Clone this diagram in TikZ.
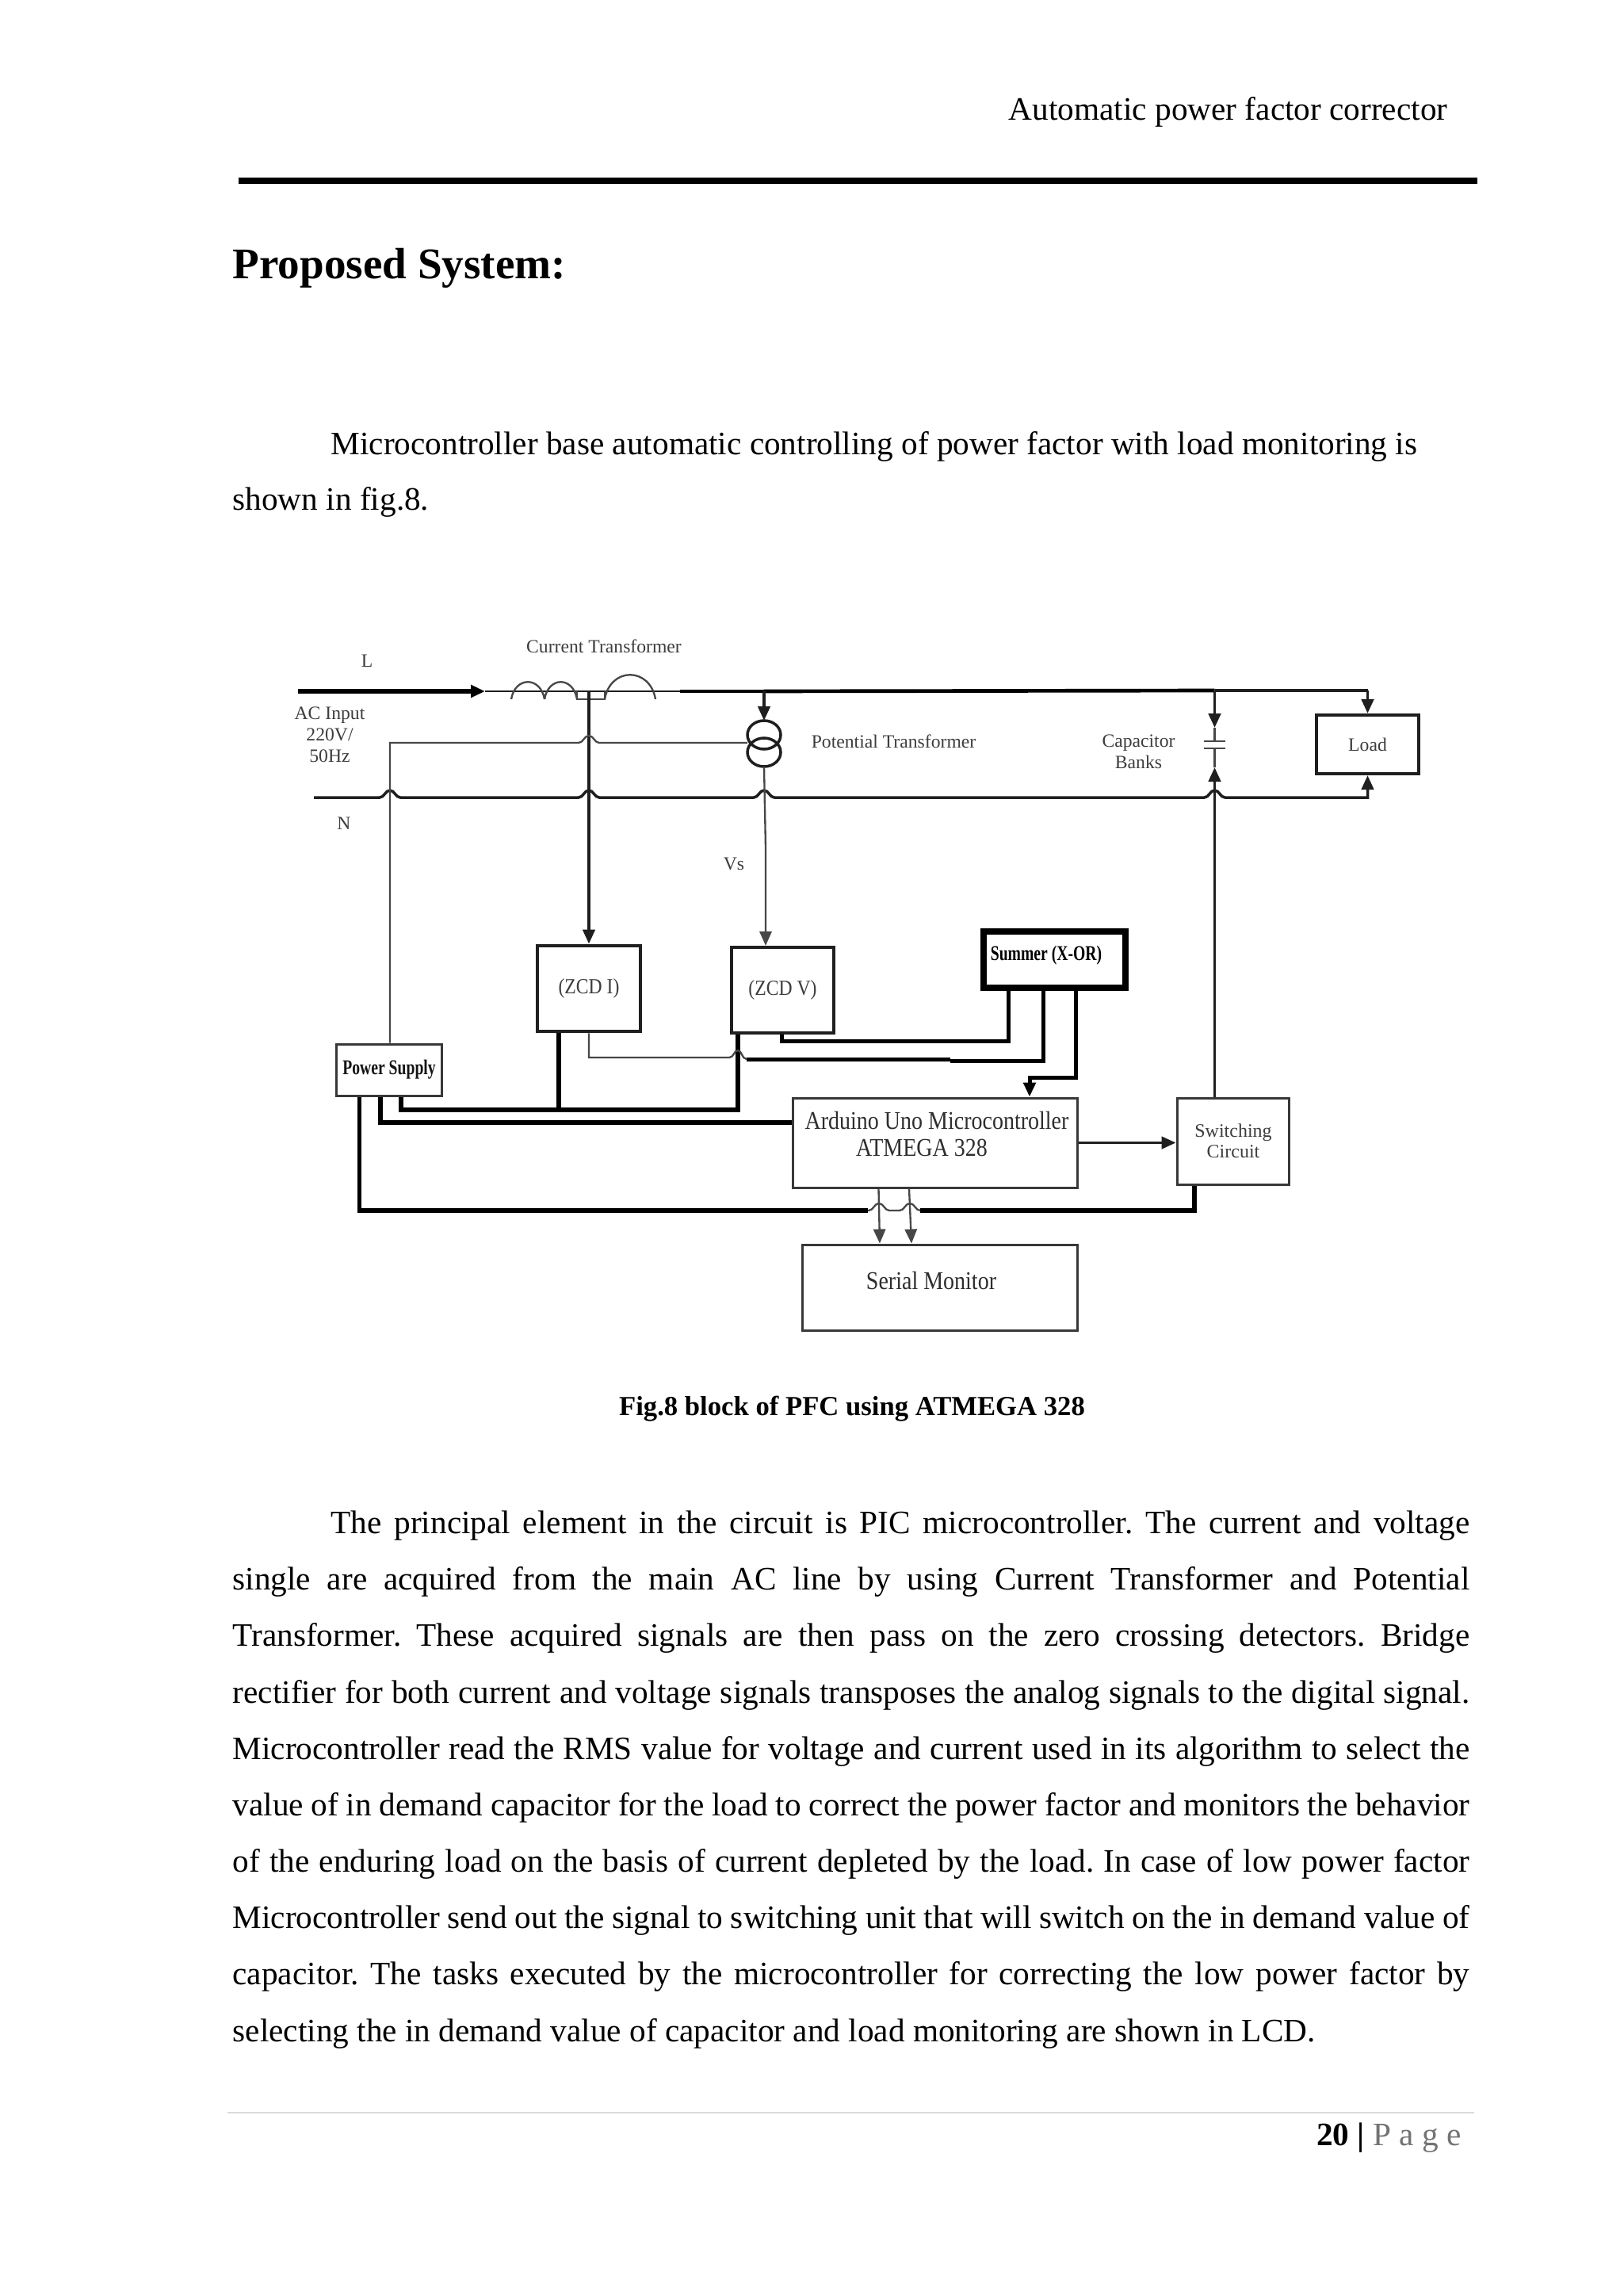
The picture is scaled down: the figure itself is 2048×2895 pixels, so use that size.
\documentclass[tikz,border=0pt]{standalone}
\usepackage{fontspec}
\usepackage{graphicx}
\setmainfont{Liberation Serif}
\usetikzlibrary{arrows.meta}
\frenchspacing
\newcommand\hj[2]{ -- (#1-13,#2) .. controls (#1-7,#2) and (#1-6,#2-9) .. (#1,#2-9) .. controls (#1+6,#2-9) and (#1+7,#2) .. (#1+13,#2)}
\newcommand\vln[3]{\node[bodyline,anchor=base west] (#1) at (293,#2) {\makebox[468.2pt][s]{#3}};}
\newcommand\fln[4]{\node[bodyline,anchor=base west] (#1) at (#2,#3) {#4};}
\newcommand\tallt[1]{\scalebox{1}[1.35]{#1}}
\newcommand\midt[1]{\scalebox{1}[1.15]{#1}}
\tikzset{
  x=0.3pt,y=-0.3pt,
  bodyline/.style={inner sep=0pt,font=\fontsize{12.38}{14}\selectfont},
  lab/.style={inner sep=0pt,align=center,text=black!76,font=\fontsize{7.1}{8}\selectfont},
  labbig/.style={lab,text=black!82,font=\fontsize{8.4}{10.2}\selectfont},
  labbold/.style={lab,text=black!92,font=\bfseries\fontsize{5.9}{7}\selectfont},
  blk/.style={draw=black!88,line width=1.25pt,inner sep=0pt,rectangle},
  blkthin/.style={draw=black!78,line width=.9pt,inner sep=0pt,rectangle},
  wthick/.style={draw=black,line width=1.75pt,line join=miter},
  wmed/.style={draw=black!88,line width=1.05pt,line join=miter},
  wthin/.style={draw=black!72,line width=.7pt,line join=miter},
  tip/.style={-{Triangle[length=5.4pt,width=4.6pt]}},
}
\begin{document}
\begin{tikzpicture}
\useasboundingbox (0,0) rectangle (2048,2895);
\fill[white] (0,0) rectangle (2048,2895);
% page furniture
\node[bodyline,anchor=base east] (hdr) at (1827,152) {Automatic power factor corrector};
\coordinate (ruleL) at (301,228); \coordinate (ruleR) at (1864,228);
\draw[line width=2.4pt,black] (ruleL) -- (ruleR);
\node[inner sep=0pt,anchor=base west,font=\bfseries\fontsize{16.55}{18}\selectfont] (ttl) at (293,352) {Proposed System:};
\fln{pa}{417}{574}{Microcontroller base automatic controlling of power factor with load monitoring is}
\fln{pb}{293}{644}{shown in fig.8.}
\node[inner sep=0pt,anchor=base,font=\bfseries\fontsize{10.4}{13}\selectfont] (cap) at (1075,1785) {Fig.8 block of PFC using ATMEGA 328};
\fln{qa}{417}{1934}{\makebox[431pt][s]{The principal element in the circuit is PIC microcontroller. The current and voltage}}
\vln{qb}{2005}{single are acquired from the main AC line by using Current Transformer and Potential}
\vln{qc}{2076}{Transformer. These acquired signals are then pass on the zero crossing detectors. Bridge}
\vln{qd}{2148}{rectifier for both current and voltage signals transposes the analog signals to the digital signal.}
\vln{qe}{2219}{Microcontroller read the RMS value for voltage and current used in its algorithm to select the}
\vln{qf}{2290}{value of in demand capacitor for the load to correct the power factor and monitors the behavior}
\vln{qg}{2361}{of the enduring load on the basis of current depleted by the load. In case of low power factor}
\vln{qh}{2432}{Microcontroller send out the signal to switching unit that will switch on the in demand value of}
\vln{qi}{2503}{capacitor. The tasks executed by the microcontroller for correcting the low power factor by}
\fln{qj}{293}{2575}{selecting the in demand value of capacitor and load monitoring are shown in LCD.}
\coordinate (footL) at (287,2665); \coordinate (footR) at (1860,2665);
\draw[line width=.4pt,black!14] (footL) -- (footR);
\node[bodyline,anchor=base east] (pg) at (1844,2706) {\textbf{20 |} \textcolor{black!55}{P a g e}};

% blocks
\node[blk,minimum width=39pt,minimum height=32.6pt,lab,draw=black!88] (zi) at (743,1247) {\midt{(ZCD I)}};
\node[blk,minimum width=38.7pt,minimum height=32.4pt,lab,draw=black!88] (zv) at (987.5,1249) {\midt{(ZCD V)}};
\node[blk,minimum width=53.7pt,minimum height=21.3pt,line width=2.2pt,draw=black] (sum) at (1330.5,1210.5) {};
\node[labbold,anchor=center,text=black] (sumt) at (1320,1205) {\tallt{Summer (X-OR)}};
\node[blkthin,minimum width=40pt,minimum height=19.5pt,labbold,draw=black!78] (ps) at (491,1349.5) {\tallt{Power Supply}};
\node[blkthin,minimum width=107.7pt,minimum height=33.9pt] (ard) at (1179.5,1441.5) {};
\node[labbig,anchor=center] (ardt) at (1182,1413) {\midt{Arduino Uno Microcontroller}};
\node[labbig,anchor=center] (ardu) at (1163,1448) {\midt{ATMEGA 328}};
\node[blkthin,minimum width=42.3pt,minimum height=32.7pt] (sw) at (1555.5,1439.5) {};
\node[lab,anchor=center,font=\fontsize{7.2}{7.7}\selectfont] (swt) at (1556,1439) {Switching\\Circuit};
\node[blkthin,minimum width=104.2pt,minimum height=32.4pt] (ser) at (1186,1624) {};
\node[labbig,anchor=center] (sert) at (1175,1615) {\midt{Serial Monitor}};
\node[blk,minimum width=38.7pt,minimum height=22.2pt,lab] (load) at (1725.5,939) {Load};

% labels
\node[lab] (tL) at (463,834) {L};
\node[lab] (tN) at (434,1039) {N};
\node[lab,font=\fontsize{7.1}{8.1}\selectfont] (tac) at (416,927) {AC Input\\220V/\\50Hz};
\node[lab] (tct) at (762,815) {Current Transformer};
\node[lab] (tpt) at (1127.5,935) {Potential Transformer};
\node[lab,font=\fontsize{7.1}{8.1}\selectfont] (tcb) at (1436.5,948) {Capacitor\\Banks};
\node[lab] (tvs) at (926,1090) {Vs};

% transformers / capacitor
\draw[wmed] (964,927) circle [x radius=6.3pt,y radius=5.4pt];
\draw[wmed] (964,949) circle [x radius=6.3pt,y radius=5.4pt];
\coordinate (ptTop) at (964,909); \coordinate (ptBot) at (964,967);
\coordinate (ptIn) at (943,937);
\coordinate (capA) at (1532.5,935); \coordinate (capB) at (1532.5,944);
\draw[wthin] (1519,935) -- (1546,935);
\draw[wthin] (1519,944) -- (1546,944);

% L line
\coordinate (Ls) at (376,872); \coordinate (Lm) at (612,872); \coordinate (J1) at (743,872);
\coordinate (Lc) at (858,872); \coordinate (J2) at (964,872); \coordinate (J3) at (1532.5,871);
\coordinate (Lload) at (1725.5,871);
\draw[wthick,tip] (Ls) -- (Lm);
\draw[wmed,line width=.8pt] (Lm) -- (Lc);
\draw[wthick,line width=1.1pt] (Lc) -- (J2);
\draw[wthick,line width=1.4pt] (J2) -- (J3);
% CT coils
\draw[wthin] (645,882) .. controls (650,853) and (682,853) .. (687,882);
\draw[wthin] (687,882) .. controls (692,853) and (723,853) .. (728,882);
\draw[wthin] (728,872) -- (728,882) -- (763,882) -- (763,872);
\draw[wthin] (763,882) .. controls (770,841) and (820,841) .. (827,882);

% capacitor feeds and load
\draw[wmed,line width=1.15pt] (J3) -- (Lload);
\draw[wmed,line width=1.15pt,tip] (Lload) -- (load.north);
\draw[wmed,line width=1.15pt,tip] (J3) -- (1532.5,918);
\draw[wthin] (1532.5,918) -- (capA);
\draw[wthin] (capB) -- (1532.5,968);

% N line
\coordinate (Ns) at (396,1006);
\draw[wmed,tip] (Ns) \hj{492}{1006} \hj{743}{1006} \hj{964}{1006} \hj{1532.5}{1006} -| (load.south);

% CT and PT secondaries
\draw[wmed,tip] (J1) -- (zi.north);
\draw[wmed,tip] (J2) -- (ptTop);
\draw[wthin,tip] (ptBot) -- (966,1070) -- (zv.north -| 966,0);
\draw[wthin] (ps.north -| 492,0) -- (492,937) \hj{743}{937} -- (ptIn);

% switching to capacitor
\draw[wmed,tip] (sw.north -| 1532.5,0) -- (1532.5,968);
\draw[wmed,tip] (ard.east |- 0,1441.5) -- (sw.west |- 0,1441.5);

% power supply rails
\draw[wthick] (ps.south -| 453.5,0) |- (1095,1527);
\draw[wthin] (1095,1527) \hj{1109}{1527} -- (1135,1527) \hj{1148}{1527};
\draw[wthick] (1161,1527) -| (sw.south -| 1507,0);
\draw[wthick] (ps.south -| 480,0) |- (ard.west |- 0,1416);
\draw[wthick] (ps.south -| 506,0) |- (931,1400) -- (zv.south -| 931,0);
\draw[wthick] (zi.south -| 705,0) -- (705,1400);

% ZCD to summer
\draw[wthin] (zi.south) |- (920,1334) .. controls (926,1334) and (926,1325) .. (931,1325) .. controls (936,1325) and (936,1336) .. (942,1336);
\draw[wthick,line width=1.5pt] (942,1336) -- (1199,1336);
\draw[wthick,line width=1.5pt] (1199,1338) -| (sum.south -| 1316,0);
\draw[wthick,line width=1.5pt] (zv.south -| 986,0) |- (1272,1313) -- (sum.south -| 1272,0);
\draw[wthick,line width=1.5pt] (sum.south -| 1357,0) |- (1299,1359) -- (1299,1366);
\draw[wthick,line width=1.5pt,tip] (1299,1359) -- (ard.north -| 1299,0);

% arduino to serial
\draw[wthin,tip] (ard.south -| 1108.5,0) -- (ser.north -| 1110,0);
\draw[wthin,tip] (ard.south -| 1147,0) -- (ser.north -| 1150,0);
\end{tikzpicture}
\end{document}
